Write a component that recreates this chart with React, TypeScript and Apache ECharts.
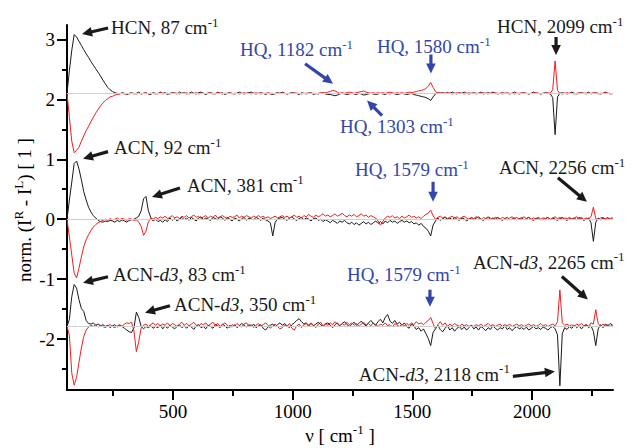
import React, { useEffect, useRef } from 'react';
import * as echarts from 'echarts';

// wavenumber sampling grid (cm^-1)
const NU = [
  57, 67, 77, 87, 97, 107, 117, 127, 137, 147,
  157, 167, 177, 187, 197, 207, 217, 227, 237, 247,
  257, 267, 277, 287, 297, 307, 317, 327, 337, 347,
  357, 367, 377, 387, 397, 407, 417, 427, 437, 447,
  457, 467, 477, 487, 497, 507, 517, 527, 537, 547,
  557, 567, 577, 587, 597, 607, 617, 627, 637, 647,
  657, 667, 677, 687, 697, 707, 717, 727, 737, 747,
  757, 767, 777, 787, 797, 807, 817, 827, 837, 847,
  857, 867, 877, 887, 897, 907, 917, 927, 937, 947,
  957, 967, 977, 987, 997, 1007, 1017, 1027, 1037, 1047,
  1057, 1067, 1077, 1087, 1097, 1107, 1117, 1127, 1137, 1147,
  1157, 1167, 1177, 1187, 1197, 1207, 1217, 1227, 1237, 1247,
  1257, 1267, 1277, 1287, 1297, 1307, 1317, 1327, 1337, 1347,
  1357, 1367, 1377, 1387, 1397, 1407, 1417, 1427, 1437, 1447,
  1457, 1467, 1477, 1487, 1497, 1507, 1517, 1527, 1537, 1547,
  1557, 1567, 1577, 1587, 1597, 1607, 1617, 1627, 1637, 1647,
  1657, 1667, 1677, 1687, 1697, 1707, 1717, 1727, 1737, 1747,
  1757, 1767, 1777, 1787, 1797, 1807, 1817, 1827, 1837, 1847,
  1857, 1867, 1877, 1887, 1897, 1907, 1917, 1927, 1937, 1947,
  1957, 1967, 1977, 1987, 1997, 2007, 2017, 2027, 2037, 2047,
  2057, 2067, 2077, 2087, 2097, 2107, 2117, 2127, 2137, 2147,
  2157, 2167, 2177, 2187, 2197, 2207, 2217, 2227, 2237, 2247,
  2257, 2267, 2277, 2287, 2297, 2307, 2317, 2327, 2337,
];

// vertical offsets of the three spectrum pairs
const BASE_HCN = 2.1;
const BASE_ACN = 0;
const BASE_ACND3 = -1.79;

// normalized ROA values relative to each baseline
const HCN_BLACK = [
  0, 0.38, 0.72, 0.98, 0.94, 0.87, 0.8, 0.73, 0.66, 0.6,
  0.53, 0.47, 0.41, 0.35, 0.29, 0.22, 0.16, 0.1, 0.06, 0.03,
  0.01, 0, -0.01, 0.01, 0, -0.02, 0, 0.01, -0.01, 0,
  0.02, -0.01, 0, 0.01, -0.01, -0.02, 0.01, 0, -0.01, 0.02,
  0, 0.01, -0.02, 0, 0.01, 0, -0.01, 0.02, 0, 0.01,
  -0.01, 0, 0.02, 0, -0.01, 0.01, 0.02, 0, -0.02, 0,
  0.01, 0, -0.01, 0.02, 0, 0.01, -0.02, 0, 0.01, 0,
  -0.01, 0, 0.02, 0, -0.01, 0, 0.01, 0.02, 0, -0.01,
  0, 0.01, 0, -0.02, 0, -0.01, -0.02, 0, 0.01, 0,
  0.02, 0, -0.01, 0, 0.01, 0, 0, -0.02, 0.01, 0,
  -0.01, 0, 0.01, -0.02, 0, -0.01, 0, 0.01, -0.01, -0.02,
  -0.02, -0.03, -0.04, -0.03, -0.01, 0, -0.01, -0.02, -0.01, 0,
  -0.01, -0.02, 0, -0.01, -0.03, -0.02, -0.01, 0, -0.01, -0.02,
  -0.01, 0, -0.01, -0.02, 0, -0.01, 0, -0.01, -0.02, -0.01,
  0, -0.01, -0.02, -0.01, 0, -0.02, -0.03, -0.04, -0.05, -0.06,
  -0.07, -0.09, -0.12, -0.06, -0.01, 0.01, 0, 0.01, 0, 0.01,
  0, 0.02, 0, -0.01, 0.01, 0, 0.02, 0, -0.01, 0,
  0.01, 0, 0, 0.02, -0.01, 0, 0.01, 0, 0.02, 0,
  -0.01, 0, 0.01, 0, 0, -0.01, 0, 0.02, 0, -0.01,
  0, 0.01, 0, -0.01, 0, 0.02, 0, 0, -0.01, 0,
  0.01, 0, -0.01, -0.07, -0.69, -0.06, 0, 0.01, 0, -0.01,
  0, 0.02, 0, -0.01, 0, 0.01, 0, 0, 0.02, -0.01,
  0, 0.01, 0, -0.01, 0, 0.02, 0, -0.01, 0,
];

const HCN_RED = [
  0, -0.4, -0.8, -0.99, -0.95, -0.9, -0.8, -0.71, -0.62, -0.55,
  -0.47, -0.4, -0.33, -0.27, -0.21, -0.16, -0.12, -0.09, -0.06, -0.05,
  -0.03, -0.02, -0.01, 0, -0.01, 0, -0.01, 0, 0, -0.01,
  0, -0.01, 0, 0.01, -0.01, 0, 0, -0.01, 0, 0.01,
  -0.01, 0, 0, -0.01, 0, 0.01, 0, -0.01, 0, 0,
  0.01, -0.01, 0, 0, 0.01, -0.01, 0, 0, -0.01, 0.01,
  0, -0.01, 0, 0.01, 0, -0.01, 0, 0, 0.01, -0.01,
  0, 0, -0.01, 0, 0.01, 0, 0, -0.01, 0, 0.01,
  0, -0.01, 0, 0, 0.01, 0, 0, -0.01, 0, 0,
  0.01, 0, -0.01, 0, 0, 0.01, 0, 0, -0.01, 0,
  0, 0.01, 0, 0, -0.01, 0, 0.01, 0, 0.01, 0.02,
  0.03, 0.05, 0.04, 0.02, 0, 0.01, 0, 0.01, 0.02, 0.01,
  0, 0.01, 0.02, 0.03, 0.04, 0.02, 0.01, 0, 0.01, 0,
  0.01, 0, 0.01, 0, 0.01, 0.02, 0.01, 0, 0.01, 0,
  0.01, 0, 0.01, 0.02, 0.01, 0.02, 0.03, 0.04, 0.05, 0.06,
  0.08, 0.12, 0.18, 0.1, 0.03, 0, 0.01, 0, 0, 0.01,
  0, -0.01, 0, 0.01, 0, 0, -0.01, 0, 0.01, 0,
  0, -0.01, 0, 0, 0.01, 0, -0.01, 0, 0, 0.01,
  0, 0, -0.01, 0, 0.01, 0, 0, -0.01, 0, 0,
  0.01, 0, 0, -0.01, 0, 0, 0.01, 0, -0.01, 0,
  0, 0.01, 0, 0.06, 0.54, 0.05, 0, -0.01, 0, 0.01,
  0, 0, -0.01, 0, 0.01, 0, 0, -0.01, 0, 0,
  0.01, 0, -0.01, 0, 0, 0.01, 0, 0, -0.01,
];

const ACN_BLACK = [
  0, 0.32, 0.62, 0.93, 0.97, 0.84, 0.66, 0.46, 0.32, 0.2,
  0.12, 0.06, 0.02, -0.02, -0.04, -0.05, -0.03, -0.04, -0.02, -0.03,
  -0.05, -0.02, -0.04, -0.01, -0.03, -0.05, -0.02, -0.01, 0, 0.02,
  0.05, 0.14, 0.34, 0.38, 0.14, 0.03, -0.03, 0, -0.04, -0.02,
  -0.05, -0.01, -0.04, 0.02, -0.02, 0.01, -0.03, 0, 0.03, -0.01,
  0.02, -0.02, 0.03, 0, -0.03, 0.02, 0.04, -0.01, 0.02, 0,
  -0.02, 0.03, 0.01, -0.01, 0.04, 0.02, -0.02, 0.03, 0, -0.03,
  0.02, 0, -0.03, 0.01, 0.03, -0.02, 0.02, 0, -0.01, 0.03,
  0.01, -0.02, 0.02, -0.01, -0.03, -0.06, -0.28, -0.05, 0, 0.02,
  0.03, 0, -0.02, 0.02, 0.04, 0, -0.02, 0.01, 0.03, -0.01,
  0.02, 0, -0.03, 0.01, 0.02, -0.02, 0, -0.04, -0.01, -0.03,
  -0.06, -0.02, -0.04, -0.07, -0.03, -0.05, -0.02, -0.06, -0.08, -0.05,
  -0.09, -0.06, -0.1, -0.07, -0.04, -0.08, -0.05, -0.09, -0.06, -0.03,
  -0.07, -0.04, -0.08, -0.03, -0.06, -0.02, -0.05, -0.03, -0.07, -0.04,
  -0.02, -0.05, -0.03, -0.06, -0.04, -0.08, -0.06, -0.1, -0.07, -0.12,
  -0.15, -0.2, -0.28, -0.1, -0.03, 0.02, -0.02, 0.01, 0.03, 0,
  0.02, -0.01, 0.03, 0, -0.02, 0.02, 0.01, -0.03, 0, 0.02,
  -0.01, 0.02, 0.04, 0, -0.02, 0.01, 0.03, -0.01, 0.02, 0,
  0.03, 0, -0.02, 0.01, 0.03, -0.01, 0, 0.02, -0.01, 0.01,
  0.02, -0.01, 0.01, 0.03, 0, -0.02, 0.01, 0.02, -0.01, 0,
  0.01, 0.03, -0.01, 0.02, 0, -0.02, 0.01, 0.03, 0, -0.02,
  0.01, 0, 0.02, -0.01, 0.03, 0.01, -0.02, 0, 0.02, -0.06,
  -0.37, -0.05, 0.02, -0.01, 0.02, 0, 0.03, -0.01, 0.01,
];

const ACN_RED = [
  0, -0.3, -0.6, -0.9, -0.98, -0.82, -0.63, -0.46, -0.34, -0.26,
  -0.19, -0.13, -0.09, -0.06, -0.04, -0.02, 0, -0.02, 0.01, -0.01,
  0, 0.02, -0.01, 0.01, 0, -0.02, 0.01, 0, -0.02, -0.01,
  -0.05, -0.12, -0.27, -0.2, -0.05, 0.02, 0, 0.03, 0.01, 0.04,
  0.02, 0.05, 0.01, 0.03, 0.06, 0.02, 0.04, 0.01, 0.05, 0.03,
  0.06, 0.02, 0.04, 0.07, 0.03, 0.05, 0.01, 0.04, 0.06, 0.02,
  0.05, 0.03, 0.07, 0.02, 0.04, 0.06, 0.03, 0.01, 0.05, 0.03,
  0.04, 0.07, 0.02, 0.05, 0.03, 0.06, 0.04, 0.02, 0.05, 0.03,
  0.06, 0.03, 0.05, 0.02, 0.04, 0.01, 0.03, 0.05, 0.02, 0.04,
  0.06, 0.03, 0.05, 0.02, 0.04, 0.07, 0.03, 0.05, 0.02, 0.06,
  0.04, 0.08, 0.05, 0.03, 0.07, 0.04, 0.06, 0.09, 0.05, 0.07,
  0.04, 0.06, 0.09, 0.05, 0.07, 0.1, 0.06, 0.04, 0.07, 0.05,
  0.08, 0.04, 0.06, 0.09, 0.05, 0.07, 0.03, 0.06, 0.04, 0.02,
  -0.03, -0.1, -0.04, 0.02, 0.05, 0.03, 0.06, 0.02, 0.04, 0.01,
  0.05, 0.02, 0.04, 0.07, 0.03, 0.05, 0.02, 0.04, 0.01, 0.05,
  0.08, 0.1, 0.15, 0.06, 0, 0.03, 0.05, 0.02, 0.04, 0.01,
  0.03, 0.05, 0.02, 0.04, 0.01, 0.03, 0.05, 0.02, 0, 0.03,
  0.01, 0.04, 0.02, -0.01, 0.03, 0.01, 0.04, 0.02, 0, 0.03,
  0.02, 0, 0.03, 0.01, -0.01, 0.02, 0.04, 0.01, 0.03, 0,
  0.02, 0.04, 0.01, 0.03, 0, 0.02, 0.01, 0.03, 0, 0.02,
  0.01, 0.03, 0, 0.02, 0.04, 0.01, 0.03, 0, 0.02, 0.01,
  0.03, 0, 0.02, 0.04, 0.01, 0.03, 0, 0.02, 0.01, 0.04,
  0.2, 0.01, -0.01, 0.02, 0.03, 0, 0.02, 0.01, 0.03,
];

const ACND3_BLACK = [
  0, 0.12, 0.5, 0.7, 0.64, 0.45, 0.3, 0.25, 0.1, 0.05,
  0.04, 0.06, 0.02, 0.04, 0.01, 0.03, 0, 0.02, -0.02, 0.01,
  0.03, -0.01, 0.02, 0, -0.03, -0.06, -0.09, -0.1, -0.02, 0.24,
  0.15, 0, -0.04, 0, -0.02, 0.01, -0.03, 0, -0.02, 0.02,
  -0.04, 0.01, -0.03, 0.02, -0.01, -0.04, 0, 0.03, -0.02, 0.01,
  -0.03, 0.02, -0.01, -0.05, 0.01, 0.03, -0.02, 0, -0.04, 0.02,
  0, -0.03, 0.03, 0.01, -0.02, 0.04, 0.01, -0.03, 0.02, -0.01,
  0.03, -0.02, 0.01, 0.05, 0.02, -0.01, 0.03, 0, 0.04, -0.02,
  0.01, 0.03, -0.03, -0.06, -0.01, 0.02, 0.04, 0, 0.03, 0.06,
  0.02, 0.05, 0.01, -0.02, 0.03, 0.06, 0.1, 0.13, 0.08, 0.04,
  0.06, 0.02, 0.05, 0.01, 0.04, 0.07, 0.03, 0, 0.04, 0.06,
  0.02, -0.02, 0.03, 0.06, 0.01, 0.05, 0.08, 0.03, 0, 0.04,
  0.07, 0.02, 0.05, 0.09, 0.04, 0.01, 0.06, 0.1, 0.05, 0.02,
  0.08, 0.12, 0.06, 0.15, 0.2, 0.09, 0.05, 0.1, 0.04, 0.07,
  0.02, 0.06, 0, -0.03, 0.04, 0.01, -0.05, -0.02, -0.08, -0.04,
  -0.12, -0.2, -0.32, -0.1, -0.04, 0.02, -0.05, -0.09, -0.03, 0.01,
  -0.06, -0.02, -0.08, -0.03, 0, -0.05, -0.01, -0.06, -0.02, 0.02,
  -0.04, -0.01, -0.06, 0, -0.03, -0.07, -0.02, -0.05, 0.01, -0.03,
  -0.06, -0.02, -0.04, 0.01, -0.05, -0.02, -0.07, -0.03, 0, -0.04,
  -0.02, -0.05, -0.01, -0.06, -0.03, 0, -0.04, -0.02, -0.05, -0.01,
  -0.03, -0.06, -0.02, 0, -0.04, -0.14, -0.99, -0.12, -0.02, -0.05,
  0, -0.03, 0.02, -0.02, 0.01, -0.04, 0, 0.03, -0.02, 0.01,
  -0.08, -0.32, -0.04, 0.03, -0.02, 0.04, 0.01, 0.05, 0.02,
];

const ACND3_RED = [
  0, -0.15, -0.78, -0.98, -0.85, -0.6, -0.36, -0.17, -0.06, -0.01,
  0.02, 0, 0.03, -0.01, 0.02, 0, -0.02, 0.01, 0.03, 0,
  -0.02, 0.01, 0.03, 0, 0.04, 0.06, 0.05, 0.07, -0.08, -0.42,
  -0.25, -0.02, 0.02, 0.04, 0, 0.03, 0.06, 0.02, 0.05, 0.01,
  0.04, 0.02, 0.06, 0.01, 0.05, 0.03, 0, 0.04, 0.07, 0.02,
  0.05, 0.01, 0.04, 0.07, 0.02, 0, 0.05, 0.03, 0.06, 0.01,
  0.04, 0.07, 0.02, 0.05, 0, 0.03, 0.06, 0.02, -0.02, 0.03,
  0.01, 0.05, 0.02, -0.01, 0.04, 0.06, 0.01, 0.03, -0.02, 0.02,
  0.05, 0, 0.03, 0.06, 0.02, -0.03, 0.01, 0.04, 0, -0.04,
  -0.02, 0.03, 0, 0.05, -0.03, -0.06, 0.01, 0.04, -0.02, 0.03,
  0.05, 0, 0.06, 0.02, -0.02, 0.04, 0.07, 0.01, 0.05, 0.02,
  0.06, 0.03, 0.08, 0.04, 0.01, 0.05, 0.02, 0.07, 0.03, 0.06,
  0.02, 0.05, 0, 0.04, 0.07, 0.02, 0.05, 0.01, 0.06, 0.03,
  0, 0.04, 0.02, 0.06, 0.01, 0.03, -0.01, 0.05, 0.02, 0,
  0.04, 0.01, 0.05, 0.02, 0.06, 0.03, 0.08, 0.04, 0.06, 0.03,
  0.07, 0.1, 0.15, 0.05, -0.04, 0.03, 0.08, 0.02, 0.06, 0,
  0.04, 0.01, 0.05, 0.02, 0, 0.04, 0.01, 0.03, 0, 0.02,
  0, 0.03, 0.01, 0.04, 0, 0.02, 0.05, 0.01, 0.03, 0,
  0.02, 0.04, 0, 0.03, 0.01, 0.04, 0, 0.02, 0.04, 0.01,
  0.03, 0, 0.02, 0.04, 0.01, 0.03, 0, 0.02, 0.05, 0.01,
  0.03, 0, 0.02, 0.04, 0.01, 0.08, 0.61, 0.06, 0.02, 0.04,
  0.01, 0.03, 0, 0.04, 0.02, 0.05, 0.01, 0.03, 0, 0.06,
  0.04, 0.28, 0.05, 0, 0.04, 0.01, 0.03, 0, 0.02,
];

// axis tick values
const X_MAJOR = [500, 1000, 1500, 2000];
const X_MINOR = [250, 750, 1250, 1750, 2250];
const Y_MAJOR = [-2, -1, 0, 1, 2, 3];
const Y_MINOR = [-2.5, -1.5, -0.5, 0.5, 1.5, 2.5];

const SERIF = 'Liberation Serif';
const BLACK = '#1a1a1a';
const RED = '#f21c1c';
const BLUE = '#3447a8';

// annotations: arrow tip in data coordinates, tail/text offsets in px
type Ann = { parts: [string, string][]; tip: [number, number]; tail: [number, number]; text: [number, number]; color: string };
const ANNOTATIONS: Ann[] = [
  { parts: [['a', 'HCN, 87 cm'], ['s', '-1']], tip: [120, 3.09], tail: [26, -6], text: [29, -6], color: BLACK },
  { parts: [['a', 'HQ, 1182 cm'], ['s', '-1']], tip: [1169, 2.26], tail: [-28, -20], text: [-93, -34], color: BLUE },
  { parts: [['a', 'HQ, 1580 cm'], ['s', '-1']], tip: [1578, 2.43], tail: [0, -19], text: [-54, -27], color: BLUE },
  { parts: [['a', 'HCN, 2099 cm'], ['s', '-1']], tip: [2101, 2.74], tail: [0, -18], text: [-59, -28], color: BLACK },
  { parts: [['a', 'HQ, 1303 cm'], ['s', '-1']], tip: [1311, 1.98], tail: [15, 15], text: [-27, 26], color: BLUE },
  { parts: [['a', 'ACN, 92 cm'], ['s', '-1']], tip: [124, 1.01], tail: [25, -7], text: [31, -11], color: BLACK },
  { parts: [['a', 'ACN, 381 cm'], ['s', '-1']], tip: [412, 0.37], tail: [28, -9], text: [35, -12], color: BLACK },
  { parts: [['a', 'HQ, 1579 cm'], ['s', '-1']], tip: [1587, 0.29], tail: [0, -20], text: [-78, -32], color: BLUE },
  { parts: [['a', 'ACN, 2256 cm'], ['s', '-1']], tip: [2230, 0.29], tail: [-29, -24], text: [-88, -34], color: BLACK },
  { parts: [['a', 'ACN-'], ['i', 'd3'], ['a', ', 83 cm'], ['s', '-1']], tip: [124, -1.06], tail: [25, -6], text: [30, -8], color: BLACK },
  { parts: [['a', 'ACN-'], ['i', 'd3'], ['a', ', 350 cm'], ['s', '-1']], tip: [383, -1.56], tail: [25, -7], text: [29, -8], color: BLACK },
  { parts: [['a', 'HQ, 1579 cm'], ['s', '-1']], tip: [1574, -1.46], tail: [0, -17], text: [-83, -32], color: BLUE },
  { parts: [['a', 'ACN-'], ['i', 'd3'], ['a', ', 2265 cm'], ['s', '-1']], tip: [2234, -1.34], tail: [-26, -23], text: [-115, -37], color: BLACK },
  { parts: [['a', 'ACN-'], ['i', 'd3'], ['a', ', 2118 cm'], ['s', '-1']], tip: [2096, -2.54], tail: [-42, 5], text: [-196, 3], color: BLACK },
];

function richFor(color: string) {
  return {
    a: { fontSize: 19, fontFamily: SERIF, fill: color, lineHeight: 24 },
    i: { fontSize: 19, fontFamily: SERIF, fontStyle: 'italic', fill: color, lineHeight: 24 },
    s: { fontSize: 13, fontFamily: SERIF, fill: color, lineHeight: 12, verticalAlign: 'top' },
  };
}

function toRich(parts: [string, string][]) {
  return parts.map(([k, t]) => `{${k}|${t}}`).join('');
}

export default function App() {
  const ref = useRef<HTMLDivElement>(null);
  useEffect(() => {
    if (!ref.current) return;
    const chart = echarts.init(ref.current, undefined, { renderer: 'svg' });
    const mk = (vals: number[], base: number) => NU.map((x, i) => [x, +(base + vals[i]).toFixed(3)]);
    const lineSeries = (name: string, vals: number[], base: number, color: string, z: number) => ({
      name,
      type: 'line',
      data: mk(vals, base),
      showSymbol: false,
      symbol: 'none',
      lineStyle: { color, width: 1 },
      itemStyle: { color },
      z,
      silent: true,
    });
    const axisCommon = {
      type: 'value',
      splitLine: { show: false },
    };
    const plain = (v: number) => String(v);
    chart.setOption({
      animation: false,
      backgroundColor: '#fff',
      textStyle: { fontFamily: SERIF },
      grid: { left: 67, right: 20, top: 25, bottom: 58, containLabel: false },
      xAxis: [
        {
          ...axisCommon,
          min: 57,
          max: 2339,
          position: 'bottom',
          axisLine: { show: true, onZero: false, lineStyle: { color: '#000', width: 2 } },
          axisTick: { show: true, inside: false, length: 10, customValues: X_MAJOR, lineStyle: { color: '#000', width: 2 } },
          axisLabel: { customValues: X_MAJOR, formatter: plain, color: '#000', fontSize: 19, fontFamily: SERIF, margin: 12 },
        },
        {
          ...axisCommon,
          min: 57,
          max: 2339,
          position: 'bottom',
          axisLine: { show: false, onZero: false },
          axisTick: { show: true, inside: false, length: 6, customValues: X_MINOR, lineStyle: { color: '#000', width: 2 } },
          axisLabel: { show: false },
        },
      ],
      yAxis: [
        {
          ...axisCommon,
          min: -2.85,
          max: 3.24,
          position: 'left',
          axisLine: { show: true, onZero: false, lineStyle: { color: '#000', width: 2 } },
          axisTick: { show: true, inside: false, length: 10, customValues: Y_MAJOR, lineStyle: { color: '#000', width: 2 } },
          axisLabel: { customValues: Y_MAJOR, formatter: plain, color: '#000', fontSize: 19, fontFamily: SERIF, margin: 12 },
        },
        {
          ...axisCommon,
          min: -2.85,
          max: 3.24,
          position: 'left',
          axisLine: { show: false, onZero: false },
          axisTick: { show: true, inside: false, length: 5, customValues: Y_MINOR, lineStyle: { color: '#000', width: 2 } },
          axisLabel: { show: false },
        },
      ],
      series: [
        {
          type: 'line',
          data: [],
          silent: true,
          z: 1,
          markLine: {
            silent: true,
            symbol: 'none',
            animation: false,
            label: { show: false },
            lineStyle: { color: '#cfcfcf', width: 1, type: 'solid' },
            data: [{ yAxis: BASE_HCN }, { yAxis: BASE_ACN }, { yAxis: BASE_ACND3 }],
          },
        },
        lineSeries('HCN black', HCN_BLACK, BASE_HCN, BLACK, 2),
        lineSeries('HCN red', HCN_RED, BASE_HCN, RED, 3),
        lineSeries('ACN black', ACN_BLACK, BASE_ACN, BLACK, 2),
        lineSeries('ACN red', ACN_RED, BASE_ACN, RED, 3),
        lineSeries('ACN-d3 black', ACND3_BLACK, BASE_ACND3, BLACK, 2),
        lineSeries('ACN-d3 red', ACND3_RED, BASE_ACND3, RED, 3),
      ],
    });

    const elements: any[] = [];
    ANNOTATIONS.forEach((a) => {
      const p = chart.convertToPixel({ xAxisIndex: 0, yAxisIndex: 0 }, a.tip) as number[];
      const tx = p[0], ty = p[1];
      const sx = tx + a.tail[0], sy = ty + a.tail[1];
      const dx = tx - sx, dy = ty - sy;
      const len = Math.sqrt(dx * dx + dy * dy) || 1;
      const ux = dx / len, uy = dy / len;
      const hl = 10, hw = 4.8;
      const bx = tx - ux * hl, by = ty - uy * hl;
      elements.push({
        type: 'line',
        z: 100,
        silent: true,
        shape: { x1: sx, y1: sy, x2: bx + ux * 2, y2: by + uy * 2 },
        style: { stroke: a.color, lineWidth: 3.2 },
      });
      elements.push({
        type: 'polygon',
        z: 100,
        silent: true,
        shape: { points: [[tx, ty], [bx - uy * hw, by + ux * hw], [bx + uy * hw, by - ux * hw]] },
        style: { fill: a.color },
      });
      elements.push({
        type: 'text',
        z: 100,
        silent: true,
        x: tx + a.text[0],
        y: ty + a.text[1],
        style: {
          text: toRich(a.parts),
          rich: richFor(a.color),
          fill: a.color,
          fontSize: 19,
          fontFamily: SERIF,
          align: 'left',
          verticalAlign: 'middle',
        },
      });
    });
    // axis titles
    elements.push({
      type: 'text',
      z: 100,
      silent: true,
      x: 24,
      y: 210,
      rotation: Math.PI / 2,
      style: {
        text: '{a|norm. (I}{s|R}{a| - I}{s|L}{a|) [ 1 ]}',
        rich: richFor('#000'),
        fill: '#000',
        fontFamily: SERIF,
        align: 'center',
        verticalAlign: 'middle',
      },
    });
    elements.push({
      type: 'text',
      z: 100,
      silent: true,
      x: 340,
      y: 435,
      style: {
        text: '{a|ν [ cm}{s|-1}{a| ]}',
        rich: richFor('#000'),
        fill: '#000',
        fontFamily: SERIF,
        align: 'center',
        verticalAlign: 'middle',
      },
    });
    chart.setOption({ graphic: { elements } });

    return () => chart.dispose();
  }, []);
  return (
    <div
      ref={ref}
      style={{ position: 'absolute', left: 0, top: 0, width: 633, height: 448, background: '#fff' }}
    />
  );
}
